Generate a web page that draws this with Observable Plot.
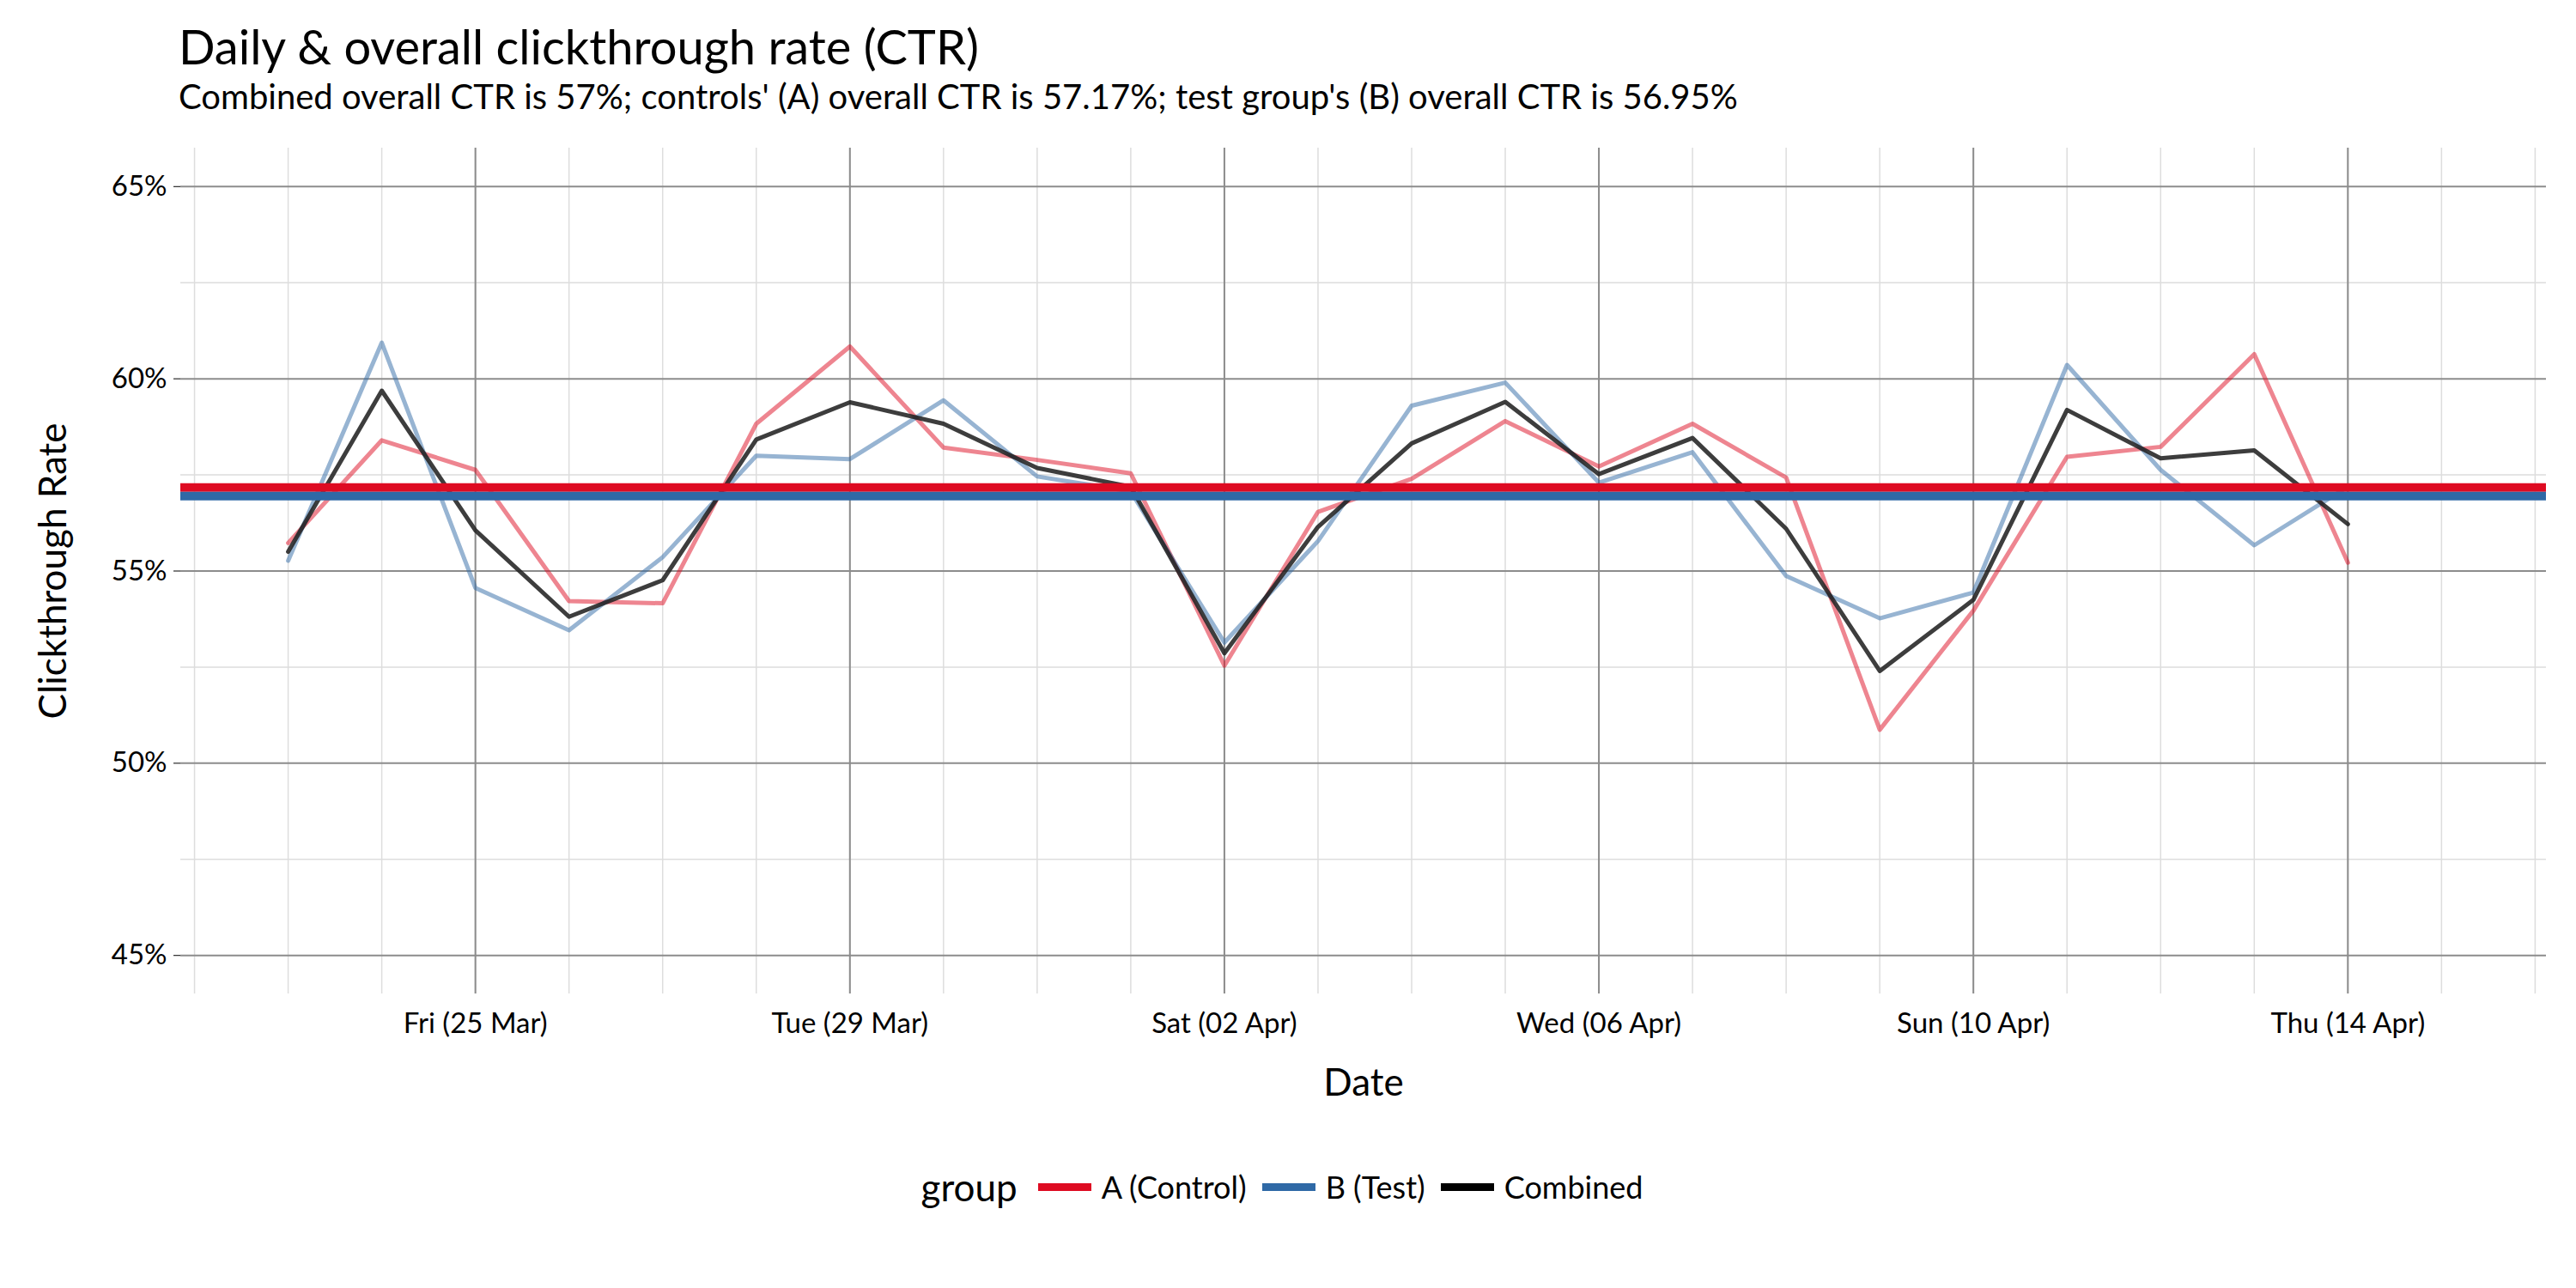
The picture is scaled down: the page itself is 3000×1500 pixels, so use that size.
<!DOCTYPE html>
<html>
<head>
<meta charset="utf-8">
<script src="https://cdn.jsdelivr.net/npm/d3@7"></script>
<script src="https://cdn.jsdelivr.net/npm/@observablehq/plot@0.6"></script>
<style>
  body { margin: 0; background: #fff; font-family: Lato, "Open Sans", sans-serif; }
  #head { height: 160px; padding-left: 208px; box-sizing: border-box; }
  #title { font-size: 56px; padding-top: 22px; line-height: 64px; color: #000; }
  #subtitle { font-size: 40px; line-height: 52px; color: #000; }
  #legend { display: flex; justify-content: center; align-items: center; margin-top: 56px; font-size: 36px; }
  #legend .t { font-size: 44px; margin-right: 20px; }
  #legend .sw { width: 62px; height: 9px; margin: 0 12px 0 4px; }
  #legend .lab { margin-right: 14px; }
</style>
</head>
<body>
<div id="head">
  <div id="title">Daily &amp; overall clickthrough rate (CTR)</div>
  <div id="subtitle">Combined overall CTR is 57%; controls' (A) overall CTR is 57.17%; test group's (B) overall CTR is 56.95%</div>
</div>
<div id="chart"></div>
<div id="legend"></div>
<script>
// days from 23 Mar to 14 Apr 2016
const dates = d3.utcDay.range(new Date(Date.UTC(2016, 2, 23)), new Date(Date.UTC(2016, 3, 15)))

const ctrA = [55.73, 58.40, 57.63, 54.22, 54.16, 58.83, 60.84, 58.21, 57.89, 57.54, 52.54, 56.54,
  57.40, 58.90, 57.72, 58.83, 57.43, 50.87, 53.97, 57.97, 58.23, 60.64, 55.22]
const ctrB = [55.27, 60.94, 54.56, 53.46, 55.36, 58.00, 57.91, 59.44, 57.46, 57.07, 53.14, 55.78,
  59.30, 59.90, 57.30, 58.09, 54.87, 53.77, 54.44, 60.36, 57.63, 55.67, 57.19]
const ctrC = [55.50, 59.69, 56.06, 53.81, 54.76, 58.42, 59.39, 58.83, 57.68, 57.19, 52.86, 56.15,
  58.32, 59.40, 57.52, 58.46, 56.10, 52.40, 54.25, 59.19, 57.93, 58.14, 56.22]

const groups = ['A (Control)', 'B (Test)', 'Combined']
const overall = [57.17, 56.95]
const colors = ['#de0b22', '#2f69a6', '#222222']

const daily = [
  ...dates.map((d, i) => ({date: d, ctr: ctrA[i] / 100, group: groups[0]})),
  ...dates.map((d, i) => ({date: d, ctr: ctrB[i] / 100, group: groups[1]})),
  ...dates.map((d, i) => ({date: d, ctr: ctrC[i] / 100, group: groups[2]})),
]
const overallRows = overall.map((v, i) => ({ctr: v / 100, group: groups[i]}))

const xDomain = [new Date(Date.UTC(2016, 2, 21, 20, 28)), new Date(Date.UTC(2016, 3, 16, 2, 53))]
const allDays = d3.utcDay.range(new Date(Date.UTC(2016, 2, 22)), new Date(Date.UTC(2016, 3, 17)))
const majorDays = d3.utcDay.range(new Date(Date.UTC(2016, 2, 25)), new Date(Date.UTC(2016, 3, 15))).filter((d, i) => i % 4 == 0)
const yMajor = [0.45, 0.50, 0.55, 0.60, 0.65]
const yMinor = [0.475, 0.525, 0.575, 0.625]

const lineColor = {'A (Control)': 'rgba(222,11,34,0.5)', 'B (Test)': 'rgba(47,105,166,0.5)', 'Combined': 'rgba(34,34,34,0.88)'}

const chart = Plot.plot({
  width: 3000,
  height: 1140,
  marginTop: 12,
  marginLeft: 210,
  marginRight: 35,
  marginBottom: 143,
  style: {fontFamily: 'Lato, sans-serif', fontSize: '33px', color: '#000'},
  x: {type: 'utc', domain: xDomain},
  y: {domain: [0.44, 0.66]},
  marks: [
    Plot.ruleX(allDays, {stroke: '#ddd', strokeWidth: 1.5}),
    Plot.ruleY(yMinor, {stroke: '#ddd', strokeWidth: 1.5}),
    Plot.ruleX(majorDays, {stroke: '#8c8c8c', strokeWidth: 2}),
    Plot.ruleY(yMajor, {stroke: '#8c8c8c', strokeWidth: 2}),
    Plot.axisX({ticks: majorDays, tickFormat: d3.utcFormat('%a (%d %b)'), tickSize: 0, tickPadding: 22,
      label: 'Date', labelAnchor: 'center', labelArrow: 'none', labelOffset: 118, fontSize: 33}),
    Plot.axisY({ticks: yMajor, tickFormat: d => Math.round(d * 100) + '%', tickSize: 8, tickPadding: 8,
      label: 'Clickthrough Rate', labelAnchor: 'center', labelArrow: 'none', labelOffset: 165, fontSize: 33}),
    Plot.line(daily, {x: 'date', y: 'ctr', z: 'group', stroke: d => lineColor[d.group], strokeWidth: 5}),
    Plot.ruleY(overallRows, {y: 'ctr', stroke: (d, i) => colors[i], strokeWidth: 10}),
  ],
})
d3.select('#chart').append(() => chart)
d3.select(chart).selectAll('[aria-label$="axis label"] text').style('font-size', '44px')

const leg = d3.select('#legend')
leg.append('span').attr('class', 't').text('group')
groups.forEach((g, i) => {
  leg.append('span').attr('class', 'sw').style('background', colors[i] == '#222222' ? '#000' : colors[i])
  leg.append('span').attr('class', 'lab').text(g)
})
</script>
</body>
</html>
